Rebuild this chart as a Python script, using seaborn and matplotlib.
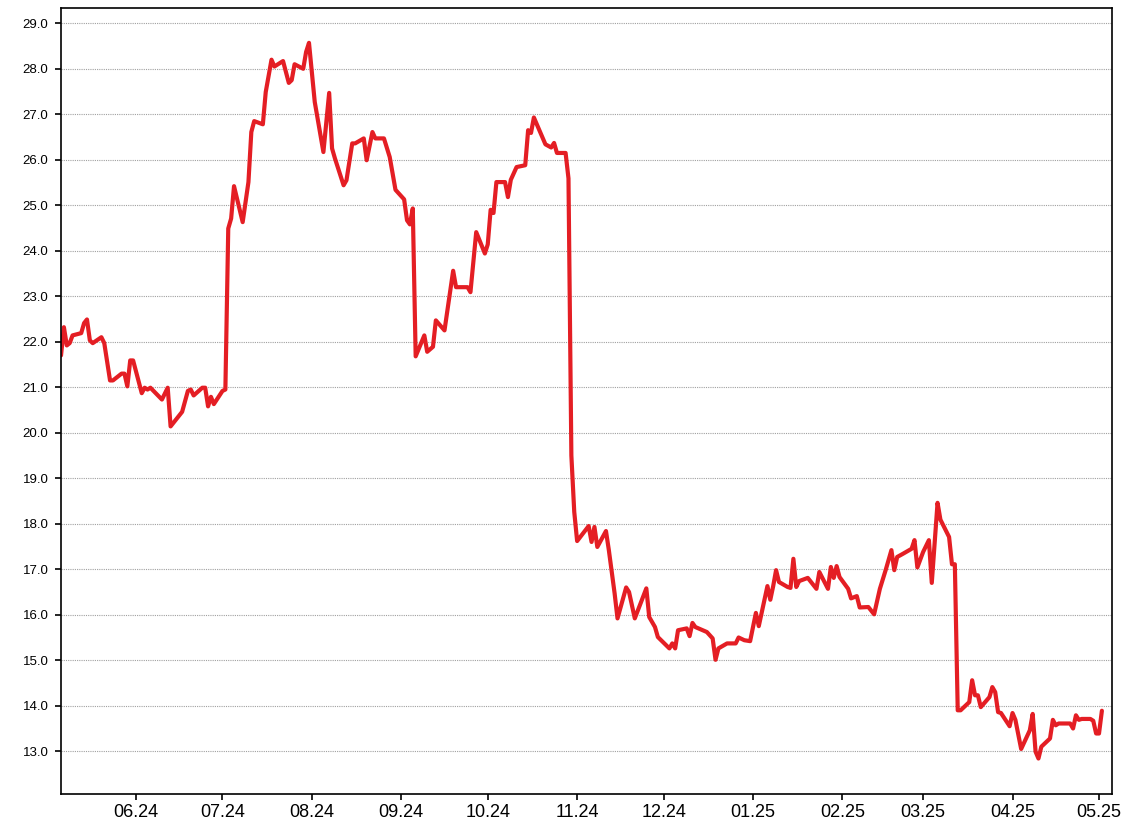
import matplotlib
matplotlib.use('Agg')
import matplotlib.pyplot as plt
import matplotlib.dates as mdates
import seaborn as sns
import pandas as pd

# closing prices, one entry per visible vertex
dates = [
    # May 2024
    "2024-05-06", "2024-05-07", "2024-05-08", "2024-05-09", "2024-05-10", "2024-05-13", "2024-05-14",
    "2024-05-15", "2024-05-16", "2024-05-17", "2024-05-20", "2024-05-21", "2024-05-23", "2024-05-24",
    "2024-05-27", "2024-05-28", "2024-05-29", "2024-05-30", "2024-05-31",
    # Jun
    "2024-06-03", "2024-06-04", "2024-06-05", "2024-06-06", "2024-06-10", "2024-06-12", "2024-06-13",
    "2024-06-17", "2024-06-19", "2024-06-20", "2024-06-21", "2024-06-24", "2024-06-25", "2024-06-26",
    "2024-06-27", "2024-06-28",
    # Jul
    "2024-07-01", "2024-07-02", "2024-07-03", "2024-07-04", "2024-07-05", "2024-07-08", "2024-07-10",
    "2024-07-11", "2024-07-12", "2024-07-15", "2024-07-16", "2024-07-18", "2024-07-19", "2024-07-22",
    "2024-07-24", "2024-07-25", "2024-07-26", "2024-07-29", "2024-07-30", "2024-07-31",
    # Aug
    "2024-08-02", "2024-08-05", "2024-08-07", "2024-08-08", "2024-08-09", "2024-08-12", "2024-08-13",
    "2024-08-15", "2024-08-16", "2024-08-19", "2024-08-20", "2024-08-22", "2024-08-23", "2024-08-26",
    "2024-08-28", "2024-08-30",
    # Sep
    "2024-09-02", "2024-09-03", "2024-09-04", "2024-09-05", "2024-09-06", "2024-09-09", "2024-09-10",
    "2024-09-12", "2024-09-13", "2024-09-16", "2024-09-19", "2024-09-20", "2024-09-24", "2024-09-25",
    "2024-09-27", "2024-09-30",
    # Oct
    "2024-10-01", "2024-10-02", "2024-10-03", "2024-10-04", "2024-10-07", "2024-10-08", "2024-10-09",
    "2024-10-11", "2024-10-14", "2024-10-15", "2024-10-16", "2024-10-17", "2024-10-21", "2024-10-23",
    "2024-10-24", "2024-10-25", "2024-10-28", "2024-10-29", "2024-10-30", "2024-10-31",
    # Nov
    "2024-11-01", "2024-11-05", "2024-11-06", "2024-11-07", "2024-11-08", "2024-11-11", "2024-11-12",
    "2024-11-14", "2024-11-15", "2024-11-18", "2024-11-19", "2024-11-21", "2024-11-25", "2024-11-26",
    "2024-11-28", "2024-11-29",
    # Dec
    "2024-12-03", "2024-12-04", "2024-12-05", "2024-12-06", "2024-12-09", "2024-12-10", "2024-12-11",
    "2024-12-12", "2024-12-16", "2024-12-18", "2024-12-19", "2024-12-20", "2024-12-23", "2024-12-26",
    "2024-12-27", "2024-12-29", "2024-12-31",
    # Jan 2025
    "2025-01-02", "2025-01-03", "2025-01-06", "2025-01-07", "2025-01-08", "2025-01-09", "2025-01-10",
    "2025-01-13", "2025-01-14", "2025-01-15", "2025-01-16", "2025-01-17", "2025-01-20", "2025-01-23",
    "2025-01-24", "2025-01-27", "2025-01-28", "2025-01-29", "2025-01-30", "2025-01-31",
    # Feb
    "2025-02-03", "2025-02-04", "2025-02-06", "2025-02-07", "2025-02-10", "2025-02-12", "2025-02-14",
    "2025-02-16", "2025-02-18", "2025-02-19", "2025-02-20", "2025-02-22", "2025-02-25", "2025-02-26",
    "2025-02-27",
    # Mar
    "2025-03-01", "2025-03-03", "2025-03-04", "2025-03-06", "2025-03-07", "2025-03-10", "2025-03-11",
    "2025-03-12", "2025-03-13", "2025-03-14", "2025-03-17", "2025-03-18", "2025-03-19", "2025-03-20",
    "2025-03-21", "2025-03-24", "2025-03-25", "2025-03-26", "2025-03-27", "2025-03-28", "2025-03-31",
    # Apr
    "2025-04-01", "2025-04-02", "2025-04-04", "2025-04-07", "2025-04-08", "2025-04-09", "2025-04-10",
    "2025-04-11", "2025-04-14", "2025-04-15", "2025-04-16", "2025-04-17", "2025-04-21", "2025-04-22",
    "2025-04-23", "2025-04-24", "2025-04-25", "2025-04-28", "2025-04-29", "2025-04-30",
    # May
    "2025-05-01", "2025-05-02",
]

close = [
    # May 2024
    21.70, 22.32, 21.92, 21.97, 22.14, 22.19, 22.41, 22.49, 22.03, 21.97, 22.10, 21.97, 21.15, 21.15,
    21.30, 21.30, 21.02, 21.59, 21.59,
    # Jun
    20.87, 20.99, 20.95, 20.99, 20.73, 20.99, 20.14, 20.46, 20.92, 20.95, 20.82, 20.99, 20.99, 20.58,
    20.79, 20.63,
    # Jul
    20.92, 20.95, 24.49, 24.71, 25.42, 24.63, 25.51, 26.61, 26.85, 26.78, 27.49, 28.20, 28.05, 28.17,
    27.69, 27.75, 28.10, 28.00, 28.37, 28.57,
    # Aug
    27.27, 26.17, 27.47, 26.25, 26.03, 25.44, 25.55, 26.36, 26.36, 26.47, 25.99, 26.61, 26.47, 26.47,
    26.06, 25.34,
    # Sep
    25.13, 24.67, 24.58, 24.93, 21.68, 22.14, 21.78, 21.89, 22.47, 22.25, 23.56, 23.20, 23.20, 23.09,
    24.41, 23.94,
    # Oct
    24.14, 24.90, 24.83, 25.51, 25.51, 25.18, 25.56, 25.84, 25.88, 26.65, 26.59, 26.93, 26.34, 26.27,
    26.37, 26.15, 26.15, 25.59, 19.50, 18.26,
    # Nov
    17.62, 17.95, 17.60, 17.93, 17.49, 17.84, 17.42, 16.47, 15.92, 16.60, 16.50, 15.92, 16.58, 15.95,
    15.73, 15.51,
    # Dec
    15.26, 15.37, 15.26, 15.66, 15.70, 15.53, 15.82, 15.73, 15.62, 15.48, 15.01, 15.26, 15.37, 15.37,
    15.50, 15.44, 15.42,
    # Jan 2025
    16.04, 15.75, 16.63, 16.33, 16.63, 16.98, 16.72, 16.61, 16.59, 17.23, 16.61, 16.74, 16.81, 16.57,
    16.94, 16.57, 17.05, 16.81, 17.07, 16.83,
    # Feb
    16.57, 16.36, 16.41, 16.16, 16.17, 16.01, 16.57, 16.98, 17.42, 16.98, 17.27, 17.34, 17.45, 17.64,
    17.04,
    # Mar
    17.38, 17.64, 16.70, 18.46, 18.09, 17.71, 17.11, 17.11, 13.90, 13.90, 14.08, 14.56, 14.23, 14.23,
    13.97, 14.19, 14.41, 14.30, 13.86, 13.84, 13.55,
    # Apr
    13.84, 13.69, 13.05, 13.46, 13.82, 12.99, 12.84, 13.10, 13.28, 13.69, 13.57, 13.61, 13.61, 13.50,
    13.79, 13.69, 13.71, 13.71, 13.67, 13.39,
    # May
    13.39, 13.89,
]

y_ticks = [13.0, 14.0, 15.0, 16.0, 17.0, 18.0, 19.0, 20.0, 21.0, 22.0, 23.0, 24.0, 25.0, 26.0, 27.0, 28.0, 29.0]

prices = pd.DataFrame({'date': pd.to_datetime(dates), 'close': close})

sns.set_style('white')
plt.rcParams['font.family'] = ['Liberation Sans', 'DejaVu Sans']

fig = plt.figure(figsize=(11.28, 8.36), dpi=100)
ax = fig.add_axes([0.0541, 0.0499, 0.9317, 0.9402])

sns.lineplot(data=prices, x='date', y='close', estimator=None, sort=False,
             color='#e41e24', linewidth=3.0, ax=ax)

ax.set_xlim(pd.Timestamp('2024-05-06'), pd.Timestamp('2025-05-05 12:00'))
ax.set_ylim(12.054, 29.33)
ax.set_yticks(y_ticks)
ax.yaxis.set_major_formatter(matplotlib.ticker.FormatStrFormatter('%.1f'))
ax.xaxis.set_major_locator(mdates.MonthLocator(bymonthday=1))
ax.xaxis.set_major_formatter(mdates.DateFormatter('%m.%y'))

ax.set_xlabel('')
ax.set_ylabel('')
ax.grid(axis='y', color='#a0a0a0', linestyle=(0, (1, 1)), linewidth=0.8)
ax.grid(axis='x', visible=False)
ax.set_axisbelow(True)

for side in ['left', 'right', 'top', 'bottom']:
    ax.spines[side].set_color('black')
    ax.spines[side].set_linewidth(1.2)

ax.tick_params(axis='y', direction='out', length=4, width=1.2, color='black', labelcolor='black',
               labelsize=9.5, pad=5, left=True)
ax.tick_params(axis='x', direction='out', length=4, width=1.2, color='black', labelcolor='black',
               labelsize=13, pad=3, bottom=True)

plt.savefig('out.png', dpi=100)
